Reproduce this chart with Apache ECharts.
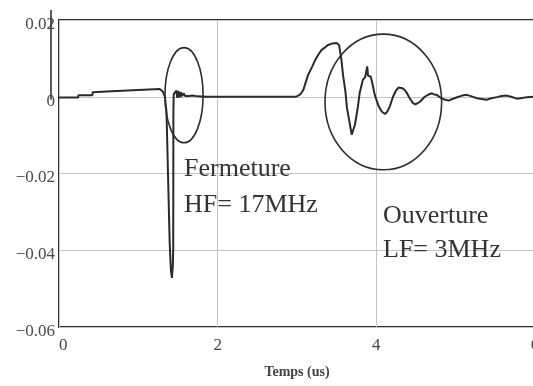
<!DOCTYPE html>
<html>
<head>
<meta charset="utf-8">
<style>
  html, body { margin: 0; padding: 0; background: #fff; }
  #chart { width: 533px; height: 386px; }
</style>
<script src="https://cdn.jsdelivr.net/npm/echarts@6/dist/echarts.min.js"></script>
</head>
<body>
<div id="chart"></div>
<script>
// Switching transient: time in microseconds, signal amplitude
const timeUs = [
  0, 0.24, 0.245, 0.42, 0.425, 0.6, 0.93, 0.935, 1.27, 1.31, 1.335, 1.355, 1.375, 1.395, 1.41, 1.423,
  1.435, 1.44, 1.442, 1.446, 1.465, 1.48, 1.49, 1.505, 1.52, 1.535, 1.55, 1.57, 1.59, 1.61, 1.64, 1.68,
  1.75, 1.85, 2.99, 3.04, 3.08, 3.14, 3.19, 3.23, 3.27, 3.31, 3.35, 3.39, 3.45, 3.5, 3.53, 3.56,
  3.58, 3.61, 3.63, 3.66, 3.69, 3.7, 3.73, 3.765, 3.79, 3.83, 3.86, 3.875, 3.885, 3.895, 3.91, 3.93,
  3.955, 3.98, 4.03, 4.07, 4.11, 4.14, 4.17, 4.21, 4.25, 4.28, 4.3, 4.33, 4.36, 4.39, 4.42, 4.46,
  4.49, 4.52, 4.55, 4.61, 4.66, 4.7, 4.73, 4.76, 4.82, 4.87, 4.91, 4.96, 5.01, 5.08, 5.14, 5.2,
  5.27, 5.33, 5.39, 5.45, 5.52, 5.58, 5.64, 5.7, 5.77, 5.84, 5.9, 6.0
];
const signal = [
  -0.0002, -0.0002, 0.0004, 0.0004, 0.0012, 0.0014, 0.0017, 0.002, 0.002, 0.0013, 0.0, -0.004, -0.021, -0.038, -0.045, -0.0472,
  -0.044, -0.039, -0.004, 0.0007, 0.0002, 0.0016, -0.0003, 0.0015, -0.0002, 0.0012, 0.0001, 0.0009, 0.0002, 0.0006, 0.0002, 0.0003,
  0.0001, 0.0, 0.0, 0.0006, 0.0018, 0.0057, 0.0078, 0.0096, 0.011, 0.0122, 0.0128, 0.0135, 0.0139, 0.014, 0.0135, 0.0096,
  0.0057, 0.0014, -0.0029, -0.0064, -0.0099, -0.0101, -0.0073, -0.003, 0.001, 0.0044, 0.0052, 0.0048, 0.0079, 0.0055, 0.0058, 0.0052,
  0.003, 0.0005, -0.0025, -0.0039, -0.0045, -0.0038, -0.0025, 0.0, 0.0017, 0.0024, 0.0026, 0.0022, 0.0017, 0.0008, -0.0004, -0.0016,
  -0.002, -0.0017, -0.0013, 0.0, 0.0006, 0.0009, 0.0006, 0.0005, -0.0004, -0.0008, -0.001, -0.0006, -0.0002, 0.0003, 0.0005, 0.0001,
  -0.0004, -0.0006, -0.0008, -0.0004, -0.0001, 0.0002, 0.0003, 0.0, -0.0005, -0.0003, -0.0001, 0.0
];

// Axis ticks
const xTicks = [0, 2, 4, 6];
const yTicks = [-0.06, -0.04, -0.02, 0, 0.02];

// Encircled regions (centre and half-axes in data units)
const ringT  = [1.576, 4.088];
const ringV  = [0.0004, -0.00136];
const ringRt = [0.24, 0.735];
const ringRv = [0.0124, 0.01767];

// Annotation lines (left edge, line centre in data units)
const noteText = ['Fermeture', 'HF= 17MHz', 'Ouverture', 'LF= 3MHz'];
const noteT = [1.576, 1.576, 4.084, 4.084];
const noteV = [-0.01900, -0.02838, -0.03100, -0.03986];

const serif = '"Liberation Serif", "Times New Roman", serif';
const minus = (v) => (v < 0 ? '\u2212' + String(Math.abs(v)) : String(v));

const chart = echarts.init(document.getElementById('chart'), null, { renderer: 'canvas' });

chart.setOption({
  animation: false,
  backgroundColor: '#ffffff',
  grid: {
    left: 59, right: -2, top: 20, bottom: 59,
    outerBoundsMode: 'none',
    containLabel: false,
    show: true, borderColor: '#2e2e2e', borderWidth: 2, backgroundColor: 'transparent'
  },
  xAxis: {
    type: 'value',
    min: xTicks[0], max: xTicks[xTicks.length - 1], interval: 2,
    axisLine: { show: false },
    axisTick: { show: false },
    splitLine: { show: true, lineStyle: { color: '#c4c4c4', width: 1 } },
    axisLabel: {
      margin: 10, color: '#444', fontFamily: serif, fontSize: 17,
      alignMinLabel: 'left',
      formatter: (v) => minus(v)
    },
    name: 'Temps (us)',
    nameLocation: 'middle',
    nameGap: 38,
    nameTextStyle: { color: '#444', fontFamily: serif, fontSize: 14, fontWeight: 'bold' }
  },
  yAxis: {
    type: 'value',
    min: yTicks[0], max: yTicks[yTicks.length - 1], interval: 0.02,
    axisLine: { show: false },
    axisTick: { show: false },
    splitLine: { show: true, lineStyle: { color: '#c4c4c4', width: 1 } },
    axisLabel: {
      margin: 4, color: '#4a4a4a', fontFamily: serif, fontSize: 17,
      formatter: (v) => '{v|' + minus(Math.round(v * 100) / 100) + '}',
      rich: {
        v: { color: '#4a4a4a', fontFamily: serif, fontSize: 17, lineHeight: 17, padding: [9, 0, 0, 0] }
      }
    }
  },
  series: [
    {
      type: 'line',
      data: timeUs.map((t, i) => [t, signal[i]]),
      showSymbol: false,
      smooth: false,
      lineStyle: { color: '#2a2a2a', width: 2 },
      z: 3
    },
    {
      // ellipses around the two oscillation bursts
      type: 'custom',
      clip: false,
      data: ringT.map((t, i) => [t, ringV[i], ringRt[i], ringRv[i]]),
      renderItem: (params, api) => {
        const c = api.coord([api.value(0), api.value(1)]);
        const s = api.size([api.value(2), api.value(3)]);
        return {
          type: 'ellipse',
          shape: { cx: c[0], cy: c[1], rx: s[0], ry: s[1] },
          style: { fill: 'none', stroke: '#2e2e2e', lineWidth: 1.6 }
        };
      },
      z: 4
    },
    {
      // text notes
      type: 'custom',
      clip: false,
      data: noteT.map((t, i) => [t, noteV[i], i]),
      renderItem: (params, api) => {
        const c = api.coord([api.value(0), api.value(1)]);
        return {
          type: 'text',
          x: c[0], y: c[1],
          style: {
            text: noteText[api.value(2)],
            fill: '#333',
            font: '26px ' + serif,
            align: 'left',
            verticalAlign: 'middle'
          }
        };
      },
      z: 5
    },
    {
      // short stroke left of the value axis, from the top down to zero
      type: 'custom',
      clip: false,
      data: [[xTicks[0], yTicks[yTicks.length - 1], 0]],
      renderItem: (params, api) => {
        const top = api.coord([api.value(0), api.value(1)]);
        const zero = api.coord([api.value(0), api.value(2)]);
        return {
          type: 'line',
          shape: { x1: top[0] - 8, y1: top[1] - 10, x2: top[0] - 8, y2: zero[1] + 3 },
          style: { stroke: '#333', lineWidth: 1.6 }
        };
      },
      z: 5
    }
  ]
});
</script>
</body>
</html>
